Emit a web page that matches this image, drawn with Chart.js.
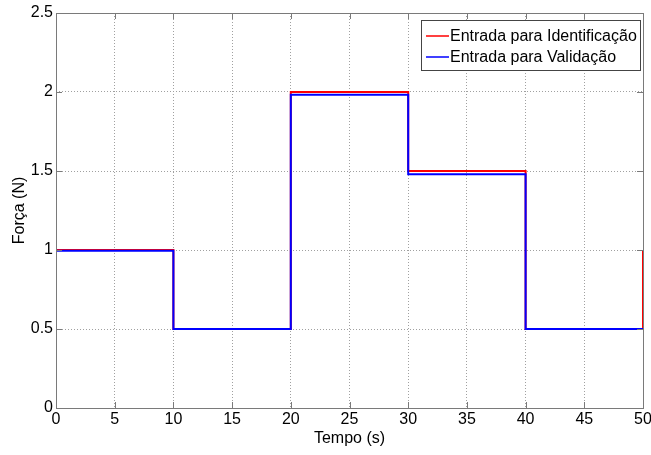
<!DOCTYPE html>
<html>
<head>
<meta charset="utf-8">
<script src="https://cdn.jsdelivr.net/npm/chart.js@4/dist/chart.umd.min.js"></script>
<style>
  html, body { margin: 0; padding: 0; background: #fff; }
  #wrap { width: 651px; height: 455px; }
</style>
</head>
<body>
<div id="wrap"><canvas id="ForcaCanvas" width="651" height="455"></canvas></div>
<script>
// step instants (s) and the level held from each instant to the next
const tempo = [0, 10, 20, 30, 40, 50];
const identificacao = [1, 0.5, 2, 1.5, 0.5, 1];
const validacao = [0.995, 0.5, 1.982, 1.48, 0.5, 0.5];
const xTicks = [0, 5, 10, 15, 20, 25, 30, 35, 40, 45, 50];
const yTicks = [0, 0.5, 1, 1.5, 2, 2.5];

const FONT = 'Liberation Sans, Arial, sans-serif';
const AXIS_COLOR = '#7a7a7a';

const toPoints = ys => tempo.map((t, i) => ({ x: t, y: ys[i] }));

/**
 * Box round the axes with inward ticks, like the original plot
 */
const boxPlugin = {
  id: 'matlabBox',
  afterDatasetsDraw(chart) {
    const { ctx, chartArea: a, scales: { x, y } } = chart;
    ctx.save();
    ctx.strokeStyle = AXIS_COLOR;
    ctx.lineWidth = 1;
    ctx.beginPath();
    xTicks.forEach(v => {
      const px = Math.round(x.getPixelForValue(v)) + 0.5;
      ctx.moveTo(px, a.bottom); ctx.lineTo(px, a.bottom - 6);
      ctx.moveTo(px, a.top); ctx.lineTo(px, a.top + 6);
    });
    yTicks.forEach(v => {
      const py = Math.round(y.getPixelForValue(v)) + 0.5;
      ctx.moveTo(a.left, py); ctx.lineTo(a.left + 6, py);
      ctx.moveTo(a.right, py); ctx.lineTo(a.right - 6, py);
    });
    ctx.stroke();
    ctx.strokeRect(Math.round(a.left) + 0.5, Math.round(a.top) + 0.5,
      Math.round(a.right - a.left), Math.round(a.bottom - a.top));
    ctx.restore();
  },
};

/**
 * Legend box in the upper right corner of the axes
 */
const legendPlugin = {
  id: 'matlabLegend',
  afterDraw(chart) {
    const { ctx } = chart;
    const left = 421, top = 20, w = 219, h = 50;
    ctx.save();
    ctx.fillStyle = '#fff';
    ctx.fillRect(left, top, w, h);
    ctx.strokeStyle = '#444';
    ctx.lineWidth = 1;
    ctx.strokeRect(left + 0.5, top + 0.5, w, h);
    ctx.font = '16px ' + FONT;
    ctx.textBaseline = 'middle';
    chart.data.datasets.forEach((ds, i) => {
      const yy = top + 16 + i * 21;
      ctx.strokeStyle = ds.borderColor;
      ctx.lineWidth = 1.5;
      ctx.beginPath();
      ctx.moveTo(left + 5, yy); ctx.lineTo(left + 28, yy);
      ctx.stroke();
      ctx.fillStyle = '#000';
      ctx.fillText(ds.label, left + 29, yy + 1);
    });
    ctx.restore();
  },
};

const ctx = document.getElementById('ForcaCanvas').getContext('2d');

window.ForcaChart = new Chart(ctx, {
  type: 'line',
  data: {
    datasets: [
      {
        label: 'Entrada para Identificação',
        data: toPoints(identificacao),
        borderColor: '#ff0000',
        borderWidth: 2,
        stepped: true,
        pointRadius: 0,
        fill: false,
        order: 2,
      },
      {
        label: 'Entrada para Validação',
        data: toPoints(validacao),
        borderColor: '#0000ff',
        borderWidth: 2,
        stepped: true,
        pointRadius: 0,
        fill: false,
        order: 1,
      },
    ],
  },
  options: {
    responsive: false,
    animation: false,
    events: [],
    layout: { padding: { top: 13, right: 8, left: 10, bottom: 7 } },
    plugins: {
      legend: { display: false },
      tooltip: { enabled: false },
    },
    scales: {
      x: {
        type: 'linear',
        min: 0,
        max: 50,
        afterBuildTicks(scale) { scale.ticks = xTicks.map(v => ({ value: v })); },
        afterFit(scale) {
          scale.height = 40;
          scale.paddingLeft = 0;
          scale.paddingRight = 0;
        },
        grid: { color: '#a0a0a0', drawTicks: false, lineWidth: 1 },
        border: { display: false, dash: [1, 2] },
        ticks: { color: '#000', padding: 2, font: { family: FONT, size: 16 }, maxRotation: 0 },
        title: {
          display: true,
          text: 'Tempo (s)',
          color: '#000',
          padding: { top: 0, bottom: 0 },
          font: { family: FONT, size: 16 },
        },
      },
      y: {
        type: 'linear',
        min: 0,
        max: 2.5,
        afterBuildTicks(scale) { scale.ticks = yTicks.map(v => ({ value: v })); },
        afterFit(scale) {
          scale.width = 46;
          scale.paddingTop = 0;
          scale.paddingBottom = 0;
        },
        grid: { color: '#a0a0a0', drawTicks: false, lineWidth: 1 },
        border: { display: false, dash: [1, 2] },
        ticks: {
          color: '#000',
          padding: 3,
          font: { family: FONT, size: 16 },
          callback: value => String(value),
        },
        title: {
          display: true,
          text: 'Força (N)',
          color: '#000',
          padding: { top: 0, bottom: 0 },
          font: { family: FONT, size: 16 },
        },
      },
    },
  },
  plugins: [boxPlugin, legendPlugin],
});
</script>
</body>
</html>
